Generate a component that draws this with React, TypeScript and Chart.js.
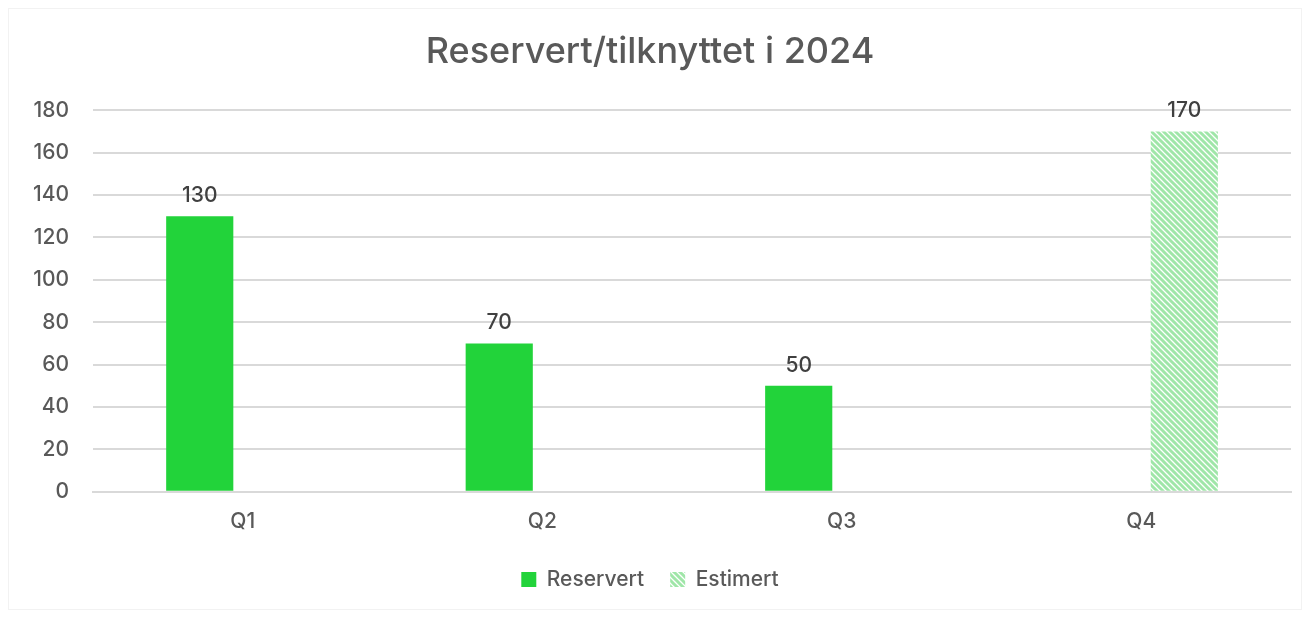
import React, { useEffect, useRef } from "react";
import { Chart, registerables } from "chart.js";

Chart.register(...registerables);

const categories = ["Q1", "Q2", "Q3", "Q4"];
const reservert = [130, 70, 50, null];
const estimert = [null, null, null, 170];
const title = "Reservert/tilknyttet i 2024";
const yMax = 180;
const yStep = 20;

const FONT = "Inter, 'Open Sans', sans-serif";
const TEXT = "#595959";
const GREEN = "#22d33a";
const LIGHT = "#9fe6a8";

function makePattern(): CanvasPattern | string {
  const s = 6;
  const c = document.createElement("canvas");
  c.width = s;
  c.height = s;
  const ctx = c.getContext("2d");
  if (!ctx) return LIGHT;
  ctx.fillStyle = "#ffffff";
  ctx.fillRect(0, 0, s, s);
  ctx.strokeStyle = LIGHT;
  ctx.lineWidth = 3;
  ctx.beginPath();
  ctx.moveTo(-1, -1);
  ctx.lineTo(s + 1, s + 1);
  ctx.moveTo(-1, s - 1);
  ctx.lineTo(1, s + 1);
  ctx.moveTo(s - 1, -1);
  ctx.lineTo(s + 1, 1);
  ctx.stroke();
  const p = ctx.createPattern(c, "repeat");
  return p || LIGHT;
}

const labelPlugin = {
  id: "valueLabels",
  afterDatasetsDraw(chart: any) {
    const ctx = chart.ctx;
    ctx.save();
    ctx.font = `500 21px ${FONT}`;
    ctx.fillStyle = "#404040";
    ctx.textAlign = "center";
    ctx.textBaseline = "bottom";
    chart.data.datasets.forEach((ds: any, i: number) => {
      const meta = chart.getDatasetMeta(i);
      meta.data.forEach((el: any, j: number) => {
        const v = ds.data[j];
        if (v === null || v === undefined) return;
        ctx.fillText(String(v), el.x, el.y - 10);
      });
    });
    ctx.restore();
  },
};

export default function App() {
  const ref = useRef<HTMLCanvasElement>(null);
  useEffect(() => {
    if (!ref.current) return;
    const pattern = makePattern();
    const chart = new Chart(ref.current, {
      type: "bar",
      data: {
        labels: categories,
        datasets: [
          {
            label: "Reservert",
            data: reservert as any,
            backgroundColor: GREEN,
            categoryPercentage: 0.575,
            barPercentage: 0.78,
          },
          {
            label: "Estimert",
            data: estimert as any,
            backgroundColor: pattern as any,
            categoryPercentage: 0.575,
            barPercentage: 0.78,
          },
        ],
      },
      options: {
        animation: false,
        responsive: false,
        maintainAspectRatio: false,
        layout: { padding: { left: 0, right: 10, top: 8, bottom: 9 } },
        plugins: {
          title: {
            display: true,
            text: title,
            color: TEXT,
            font: { family: FONT, size: 36, weight: 500 as any },
            padding: { top: 14, bottom: 36 },
          },
          legend: {
            position: "bottom",
            labels: {
              color: TEXT,
              font: { family: FONT, size: 21, weight: 500 as any },
              boxWidth: 15,
              boxHeight: 15,
              padding: 26,
            },
          },
          tooltip: { enabled: false },
        },
        scales: {
          x: {
            grid: { display: false },
            border: { color: "#d9d9d9", width: 2 },
            ticks: { color: TEXT, font: { family: FONT, size: 21, weight: 500 as any }, padding: 9 },
          },
          y: {
            min: 0,
            max: yMax,
            border: { display: false },
            grid: { color: "#d9d9d9", lineWidth: 2, drawTicks: false },
            ticks: {
              stepSize: yStep,
              color: TEXT,
              font: { family: FONT, size: 21, weight: 500 as any },
              padding: 24,
            },
          },
        },
      },
      plugins: [labelPlugin],
    });
    return () => chart.destroy();
  }, []);
  return (
    <div style={{ width: 1292, height: 600, border: "1px solid #f2f2f2" }}>
      <canvas ref={ref} width={1292} height={600} />
    </div>
  );
}
